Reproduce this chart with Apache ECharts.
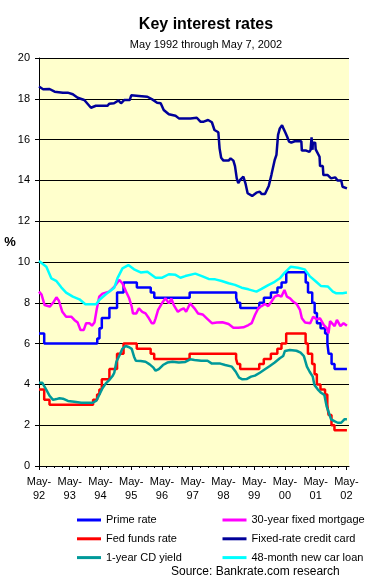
<!DOCTYPE html>
<html>
<head>
<meta charset="utf-8">
<script src="https://cdn.jsdelivr.net/npm/echarts@6/dist/echarts.min.js"></script>
<style>
html,body{margin:0;padding:0;background:#fff;}
#c{width:366px;height:584px;}
</style>
</head>
<body>
<div id="c"></div>
<script>
// ---------- DATA ----------
const xTickLabels = ['May-\n92','May-\n93','May-\n94','May-\n95','May-\n96','May-\n97','May-\n98','May-\n99','May-\n00','May-\n01','May-\n02'];
const yTicks = [0,2,4,6,8,10,12,14,16,18,20];

const primeDates = ['1992-05-01','1992-07-02','1994-03-24','1994-04-19','1994-05-17','1994-08-16','1994-11-15','1995-02-01','1995-07-07','1995-12-20','1996-02-01','1997-03-26','1998-09-30','1998-10-16','1998-11-18','1999-07-01','1999-08-25','1999-11-17','2000-02-03','2000-03-22','2000-05-17','2001-01-04','2001-02-01','2001-03-21','2001-04-19','2001-05-16','2001-06-28','2001-08-22','2001-09-18','2001-10-03','2001-11-07','2001-12-12','2002-05-07'];
const primeValues = [6.5,6.0,6.25,6.75,7.25,7.75,8.5,9.0,8.75,8.5,8.25,8.5,8.25,8.0,7.75,8.0,8.25,8.5,8.75,9.0,9.5,9.0,8.5,8.0,7.5,7.0,6.75,6.5,6.0,5.5,5.0,4.75,4.75];

const fedDates = ['1992-05-01','1992-07-02','1992-09-04','1994-02-04','1994-03-22','1994-04-18','1994-05-17','1994-08-16','1994-11-15','1995-02-01','1995-07-06','1995-12-19','1996-01-31','1997-03-25','1998-09-29','1998-10-15','1998-11-17','1999-06-30','1999-08-24','1999-11-16','2000-02-02','2000-03-21','2000-05-16','2001-01-03','2001-01-31','2001-03-20','2001-04-18','2001-05-15','2001-06-27','2001-08-21','2001-09-17','2001-10-02','2001-11-06','2001-12-11','2002-05-07'];
const fedValues = [3.75,3.25,3.0,3.25,3.5,3.75,4.25,4.75,5.5,6.0,5.75,5.5,5.25,5.5,5.25,5.0,4.75,5.0,5.25,5.5,5.75,6.0,6.5,6.0,5.5,5.0,4.5,4.0,3.75,3.5,3.0,2.5,2.0,1.75,1.75];

const mortgageDates = ['1992-05-01','1992-06-01','1992-07-07','1992-09-07','1992-10-16','1992-11-25','1992-12-25','1993-02-04','1993-03-19','1993-05-19','1993-06-25','1993-08-04','1993-09-07','1993-10-16','1993-11-13','1993-12-22','1994-01-22','1994-02-19','1994-03-16','1994-04-16','1994-05-25','1994-08-13','1994-10-13','1994-12-10','1995-01-19','1995-02-28','1995-04-07','1995-05-07','1995-05-22','1995-07-01','1995-08-01','1995-09-10','1995-10-19','1995-11-28','1996-01-01','1996-01-28','1996-02-16','1996-03-16','1996-05-04','1996-06-13','1996-07-22','1996-08-22','1996-09-19','1996-11-07','1996-12-07','1997-01-16','1997-02-13','1997-04-01','1997-05-22','1997-07-04','1997-08-28','1997-10-16','1997-12-16','1998-02-13','1998-04-19','1998-07-01','1998-08-28','1998-10-25','1998-12-25','1999-02-22','1999-04-01','1999-05-10','1999-06-19','1999-07-28','1999-09-07','1999-10-16','1999-11-22','2000-01-01','2000-02-10','2000-03-19','2000-04-25','2000-05-25','2000-07-01','2000-08-10','2000-09-19','2000-10-28','2000-11-19','2000-12-28','2001-02-25','2001-04-01','2001-05-13','2001-06-22','2001-08-07','2001-09-13','2001-10-01','2001-10-20','2001-11-10','2001-12-13','2002-01-10','2002-02-19','2002-03-28','2002-05-07'];
const mortgageValues = [8.55,8.4,7.89,7.81,8.0,8.27,8.1,7.56,7.32,7.32,7.16,7.03,6.67,6.67,7.0,7.0,6.88,7.03,7.65,8.3,8.45,8.55,8.78,9.12,8.95,8.55,8.22,7.81,7.48,7.48,7.73,7.56,7.48,7.24,7.0,7.0,7.24,7.65,8.0,8.22,7.97,8.2,7.89,7.56,7.65,7.73,7.56,7.97,7.73,7.48,7.43,7.24,7.0,7.03,7.05,6.96,6.78,6.78,6.8,6.91,7.0,7.4,7.73,7.84,7.94,7.84,8.05,8.3,8.38,8.3,8.63,8.3,8.22,8.05,7.94,7.65,7.24,7.03,7.0,7.32,7.19,7.24,6.91,6.75,6.5,7.1,7.16,6.86,7.16,6.86,7.0,6.87];

const creditDates = ['1992-05-01','1992-06-19','1992-09-04','1992-11-04','1993-02-10','1993-04-07','1993-06-07','1993-08-04','1993-10-22','1994-01-10','1994-03-07','1994-07-25','1994-08-13','1994-10-10','1994-12-01','1995-01-01','1995-02-07','1995-04-13','1995-05-01','1995-08-01','1995-11-10','1996-01-07','1996-03-04','1996-04-16','1996-05-22','1996-07-22','1996-10-10','1996-11-19','1997-04-04','1997-04-22','1997-06-19','1997-08-01','1997-09-10','1997-11-01','1997-12-16','1998-01-16','1998-03-01','1998-03-16','1998-04-04','1998-05-01','1998-07-01','1998-07-25','1998-08-28','1998-09-16','1998-10-07','1998-10-25','1998-11-16','1998-12-25','1999-01-19','1999-02-13','1999-04-07','1999-05-28','1999-07-07','1999-07-28','1999-09-07','1999-10-22','1999-11-22','2000-01-01','2000-01-22','2000-02-10','2000-03-01','2000-03-28','2000-04-13','2000-05-07','2000-05-28','2000-06-19','2000-07-16','2000-08-25','2000-11-13','2000-11-19','2001-01-10','2001-01-22','2001-02-16','2001-03-01','2001-03-13','2001-03-25','2001-03-28','2001-04-25','2001-05-01','2001-05-25','2001-06-16','2001-06-22','2001-07-25','2001-08-01','2001-09-22','2001-11-01','2001-12-19','2002-01-19','2002-02-28','2002-03-16','2002-05-07'];
const creditValues = [18.6,18.47,18.48,18.35,18.3,18.3,18.22,18.05,17.94,17.56,17.66,17.66,17.76,17.78,17.92,17.78,17.94,17.94,18.17,18.14,18.1,17.97,17.81,17.78,17.45,17.24,17.17,17.04,17.04,17.07,17.07,16.88,16.88,16.96,16.85,16.47,16.36,15.57,15.11,14.97,14.97,15.08,14.97,14.7,14.1,13.86,14.02,14.18,13.86,13.37,13.24,13.4,13.45,13.33,13.33,13.73,14.26,15.0,15.25,16.23,16.55,16.7,16.55,16.34,16.14,15.9,15.85,15.92,15.92,15.46,15.46,15.4,15.4,15.5,16.11,15.5,15.85,15.85,15.52,15.46,15.16,14.7,14.7,14.26,14.26,14.1,14.15,13.99,14.0,13.69,13.61];

const cdDates = ['1992-05-01','1992-06-10','1992-07-28','1992-09-07','1992-10-16','1992-11-25','1993-01-01','1993-02-10','1993-04-10','1993-06-25','1993-09-16','1994-02-01','1994-03-13','1994-04-16','1994-05-25','1994-07-04','1994-08-13','1994-09-22','1994-10-13','1994-11-07','1994-12-16','1995-01-16','1995-02-25','1995-04-07','1995-05-07','1995-06-04','1995-06-25','1995-08-22','1995-10-19','1995-12-07','1996-01-22','1996-02-16','1996-03-25','1996-05-13','1996-07-04','1996-09-04','1996-11-19','1997-02-04','1997-04-01','1997-05-22','1997-08-10','1997-10-25','1997-12-16','1998-03-25','1998-05-22','1998-08-10','1998-09-25','1998-11-04','1998-12-13','1999-02-01','1999-03-25','1999-05-10','1999-07-07','1999-09-07','1999-11-04','2000-01-01','2000-03-01','2000-04-10','2000-05-01','2000-06-28','2000-09-16','2000-11-04','2000-12-13','2001-01-19','2001-02-19','2001-03-28','2001-04-16','2001-05-25','2001-07-04','2001-08-13','2001-09-10','2001-10-01','2001-11-01','2001-12-10','2002-01-19','2002-02-28','2002-04-07','2002-05-07'];
const cdValues = [4.08,4.08,3.73,3.43,3.24,3.28,3.32,3.3,3.19,3.15,3.1,3.1,3.2,3.48,3.81,4.05,4.21,4.41,4.57,5.11,5.44,5.74,5.88,5.82,5.74,5.36,5.16,5.15,5.11,4.98,4.82,4.67,4.75,4.95,5.07,5.11,5.07,5.1,5.23,5.2,5.16,5.16,5.02,5.02,4.95,4.87,4.62,4.33,4.25,4.26,4.38,4.43,4.57,4.74,4.9,5.07,5.28,5.39,5.64,5.69,5.65,5.56,5.39,4.87,4.62,4.38,3.97,3.76,3.59,3.48,2.91,2.66,2.29,2.2,2.12,2.12,2.29,2.29];

const carDates = ['1992-05-01','1992-07-28','1992-09-25','1992-11-22','1993-01-22','1993-03-19','1993-06-07','1993-08-25','1993-11-04','1994-03-10','1994-04-16','1994-07-04','1994-10-13','1994-11-19','1995-01-19','1995-03-28','1995-06-04','1995-08-22','1995-11-10','1996-02-16','1996-05-04','1996-07-22','1996-10-10','1996-12-07','1997-02-04','1997-06-01','1997-08-19','1997-11-07','1998-01-25','1998-04-10','1998-07-01','1998-09-16','1998-12-04','1999-02-22','1999-05-28','1999-07-28','1999-10-16','2000-01-01','2000-03-01','2000-04-28','2000-07-10','2000-10-04','2000-12-22','2001-02-19','2001-05-07','2001-07-04','2001-09-22','2001-11-22','2001-12-28','2002-03-16','2002-05-07'];
const carValues = [10.05,9.77,9.2,9.08,8.76,8.5,8.3,8.17,7.93,7.93,8.14,8.42,8.74,9.2,9.69,9.85,9.64,9.49,9.52,9.23,9.23,9.4,9.37,9.23,9.31,9.43,9.31,9.17,9.15,9.07,8.96,8.88,8.74,8.66,8.55,8.68,8.87,9.03,9.2,9.48,9.77,9.72,9.64,9.31,9.03,8.82,8.8,8.55,8.47,8.47,8.5];

// ---------- BUILD ----------
function monthsSinceMay92(s){
  const p = s.split('-').map(Number);
  const dim = new Date(Date.UTC(p[0], p[1], 0)).getUTCDate();
  return (p[0]-1992)*12 + (p[1]-5) + (p[2]-1)/dim;
}
function pairs(dates, vals){ return dates.map((d,i)=>[monthsSinceMay92(d), vals[i]]); }

const FONT = 'Arial, "Liberation Sans", sans-serif';
const chart = echarts.init(document.getElementById('c'), null, {renderer:'canvas'});

function lineSeries(name, color, dates, vals, step){
  return {
    name, type:'line', xAxisIndex:0, yAxisIndex:0,
    data: pairs(dates, vals), showSymbol:false, symbol:'none',
    step: step ? 'end' : false,
    lineStyle:{color, width:2.5}, itemStyle:{color},
    emphasis:{disabled:true}, animation:false, clip:true
  };
}

const legendCommon = {
  orient:'vertical', top:508, itemWidth:24, itemHeight:3, icon:'rect', itemGap:4.8,
  selectedMode:false,
  textStyle:{fontFamily:FONT, fontSize:11, color:'#000', lineHeight:14}
};

const option = {
  backgroundColor:'#fff',
  animation:false,
  textStyle:{fontFamily:FONT},
  grid:[
    {left:39, top:58, width:310, height:408, show:true, backgroundColor:'#FFFFCC', borderWidth:0},
    {left:39, top:58, width:307.4, height:408, show:false}
  ],
  xAxis:[
    {type:'value', gridIndex:0, min:0, max:121,
     axisLine:{show:true, lineStyle:{color:'#000', width:1}},
     axisTick:{show:false}, axisLabel:{show:false}, splitLine:{show:false}},
    {type:'value', gridIndex:1, min:0, max:120, interval:12,
     axisLine:{show:false},
     axisTick:{show:true, length:4, lineStyle:{color:'#000'}},
     minorTick:{show:true, splitNumber:4, length:2, lineStyle:{color:'#000'}},
     axisLabel:{show:true, margin:9, fontFamily:FONT, fontSize:11, color:'#000', lineHeight:14,
       formatter:(v)=> xTickLabels[Math.round(v/12)] || ''},
     splitLine:{show:false}}
  ],
  yAxis:[
    {type:'value', gridIndex:0, min:yTicks[0], max:yTicks[yTicks.length-1], interval:2,
     axisLine:{show:true, lineStyle:{color:'#000'}},
     axisTick:{show:true, length:4, lineStyle:{color:'#000'}},
     axisLabel:{margin:9, fontFamily:FONT, fontSize:11, color:'#000'},
     splitLine:{show:true, lineStyle:{color:'#000', width:1}}},
    {type:'value', gridIndex:1, min:0, max:20, show:false}
  ],
  legend:[
    Object.assign({left:72, data:['Prime rate','Fed funds rate','1-year CD yield']}, legendCommon),
    Object.assign({left:217.5, data:['30-year fixed mortgage','Fixed-rate credit card','48-month new car loan']}, legendCommon)
  ],
  graphic:[
    {type:'text', x:206, y:25, style:{text:'Key interest rates', font:'bold 16px '+FONT, fill:'#000', textAlign:'center', textVerticalAlign:'middle'}},
    {type:'text', x:206, y:45, style:{text:'May 1992 through May 7, 2002', font:'11px '+FONT, fill:'#000', textAlign:'center', textVerticalAlign:'middle'}},
    {type:'text', x:10, y:242, style:{text:'%', font:'bold 13px '+FONT, fill:'#000', textAlign:'center', textVerticalAlign:'middle'}},
    {type:'text', x:171, y:572, style:{text:'Source: Bankrate.com research', font:'12px '+FONT, fill:'#000', textAlign:'left', textVerticalAlign:'middle'}}
  ],
  series:[
    lineSeries('Prime rate', '#0000FF', primeDates, primeValues, true),
    lineSeries('30-year fixed mortgage', '#FF00FF', mortgageDates, mortgageValues, false),
    lineSeries('Fed funds rate', '#FF0000', fedDates, fedValues, true),
    lineSeries('Fixed-rate credit card', '#000099', creditDates, creditValues, false),
    lineSeries('1-year CD yield', '#009999', cdDates, cdValues, false),
    lineSeries('48-month new car loan', '#00FFFF', carDates, carValues, false)
  ]
};
chart.setOption(option);
</script>
</body>
</html>
